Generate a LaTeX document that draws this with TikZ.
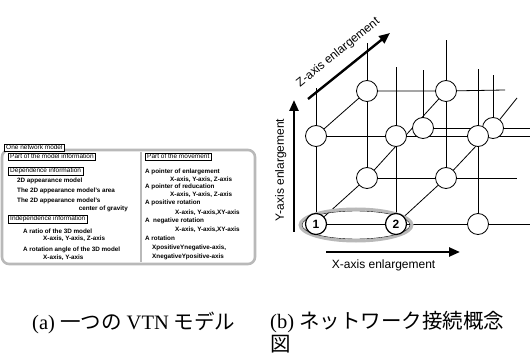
\documentclass[tikz,border=0pt]{standalone}
\usepackage{fontspec}
\setmainfont{Liberation Serif}
\setsansfont{Liberation Sans}
\newfontfamily\jpfont{Noto Sans CJK JP}
\usetikzlibrary{arrows.meta,backgrounds}

\begin{document}
\begin{tikzpicture}[x=1pt, y=-1pt,
    vtn/.style={circle, draw, fill=white, line width=0.8pt, minimum size=21pt, inner sep=0pt},
    numb/.style={vtn, line width=1.2pt, font=\sffamily\bfseries\fontsize{12}{12}\selectfont},
    grid/.style={line width=0.8pt},
    axis/.style={line width=2.4pt, -{Triangle[length=11pt,width=9pt]}},
    axlabel/.style={font=\sffamily\fontsize{12}{12}\selectfont},
    panel/.style={draw=gray!55, line width=2.6pt, rounded corners=7pt},
    tab/.style={draw, line width=0.4pt, fill=white, anchor=north west, inner xsep=2pt, inner ysep=1pt,
        font=\sffamily\fontsize{6.5}{7}\selectfont},
    item/.style={anchor=west, inner sep=0pt, font=\sffamily\bfseries\fontsize{6.3}{7}\selectfont},
    caption/.style={anchor=west, inner sep=0pt, font=\fontsize{20.5}{23}\selectfont}]
    \useasboundingbox (0,0) rectangle (530,358);

    % (a) one network model
    \draw[panel] (2,150) rectangle (255,264);
    \draw[draw=gray!55, line width=1.5pt] (141,152) -- (141,262);
    \node[tab, anchor=south west] (one) at (4,151) {One network model};
    \node[tab] (pmi) at (8,153) {Part of the model information};
    \node[tab] (dep) at (8,167) {Dependence information};
    \node[item] (m1) at (17,181) {2D appearance model};
    \node[item] (m2) at (17,191) {The 2D appearance model's area};
    \node[item] (m3) at (17,201) {The 2D appearance model's};
    \node[item, anchor=east] (m4) at (128,209) {center of gravity};
    \node[tab] (ind) at (8,215) {Independence information};
    \node[item] (m5) at (23,231) {A ratio of the 3D model};
    \node[item] (m6) at (43,239) {X-axis, Y-axis, Z-axis};
    \node[item] (m7) at (23,250) {A rotation angle of the 3D model};
    \node[item] (m8) at (43,258) {X-axis, Y-axis};

    \node[tab] (pmv) at (145,153) {Part of the movement};
    \node[item] (p1) at (145,172) {A pointer of enlargement};
    \node[item] (p2) at (170,180) {X-axis, Y-axis, Z-axis};
    \node[item] (p3) at (145,187) {A pointer of reducation};
    \node[item] (p4) at (170,195) {X-axis, Y-axis, Z-axis};
    \node[item] (p5) at (145,203) {A positive rotation};
    \node[item] (p6) at (175,213) {X-axis, Y-axis,XY-axis};
    \node[item] (p7) at (145,221) {A\ \ negative rotation};
    \node[item] (p8) at (175,230) {X-axis, Y-axis,XY-axis};
    \node[item] (p9) at (145,238) {A rotation};
    \node[item] (p10) at (152,248) {XpositiveYnegative-axis,};
    \node[item] (p11) at (152,257) {XnegativeYpositive-axis};

    % (b) network of VTN models
    \node[vtn] (n9) at (367,91) {};
    \node[vtn] (n10) at (446,91) {};
    \node[vtn] (n7) at (367,178) {};
    \node[vtn] (n8) at (446,178) {};
    \node[vtn] (n11) at (423,128) {};
    \node[vtn] (n12) at (493,128) {};
    \node[vtn] (n4) at (316,136) {};
    \node[vtn] (n5) at (396,136) {};
    \node[vtn] (n6) at (478,136) {};
    \node[numb] (n1) at (316,224) {1};
    \node[numb] (n2) at (396,224) {2};
    \node[vtn] (n3) at (478,224) {};

    \coordinate (e1) at (530,224);
    \coordinate (e2) at (530,136);
    \coordinate (e3) at (517,178);
    \coordinate (e4) at (505,90);
    \coordinate (e5) at (530,128);
    \coordinate (t1) at (316,88);
    \coordinate (t2) at (396,67);
    \coordinate (t3) at (478,69);
    \coordinate (t4) at (367,43);
    \coordinate (t5) at (446,40);
    \coordinate (t6) at (423,70);
    \coordinate (t7) at (493,75);
    \coordinate (d2) at (517,98);

    \begin{scope}[on background layer]
        \draw[grid] (n1) -- (n2) -- (n3) -- (e1);
        \draw[grid] (n4) -- (n5) -- (n6) -- (e2);
        \draw[grid] (n7) -- (n8) -- (e3);
        \draw[grid] (n9) -- (n10) -- (e4);
        \draw[grid] (n11) -- (n12) -- (e5);
        \draw[grid] (n1) -- (n4) -- (t1);
        \draw[grid] (n2) -- (n5) -- (t2);
        \draw[grid] (n3) -- (n6) -- (t3);
        \draw[grid] (n7) -- (n9) -- (t4);
        \draw[grid] (n8) -- (n10) -- (t5);
        \draw[grid] (n11) -- (t6);
        \draw[grid] (n12) -- (t7);
        \draw[grid] (n1) -- (n7) -- (n10);
        \draw[grid] (n2) -- (n8) -- (n12) -- (d2);
        \draw[grid] (n4) -- (n9);
        % group of node 1 and 2
        \draw[draw=gray!55, line width=3pt] (356,225) ellipse [x radius=56pt, y radius=16pt];
        \draw[line width=0.4pt] (356,225) ellipse [x radius=54pt, y radius=14pt];
    \end{scope}

    \coordinate (zs) at (308,99);
    \coordinate (ze) at (390,33);
    \coordinate (ys) at (294,232);
    \coordinate (ye) at (294,100);
    \coordinate (xs) at (326,252);
    \coordinate (xe) at (460,252);
    \draw[axis] (zs) -- (ze) node[axlabel, midway, above=7pt, sloped] (zl) {Z-axis enlargement};
    \draw[axis] (ys) -- (ye) node[axlabel, pos=0.47, above=3pt, sloped] (yl) {Y-axis enlargement};
    \draw[axis] (xs) -- (xe) node[axlabel, pos=0.43, below=3pt] (xl) {X-axis enlargement};

    % captions
    \node[caption] (capa) at (32,323) {(a) {\jpfont 一つの} VTN {\jpfont モデル}};
    \node[caption, anchor=north west, align=left] (capb) at (270,311) {(b) {\jpfont ネットワーク接続概念}\\{\jpfont 図}};
\end{tikzpicture}
\end{document}
